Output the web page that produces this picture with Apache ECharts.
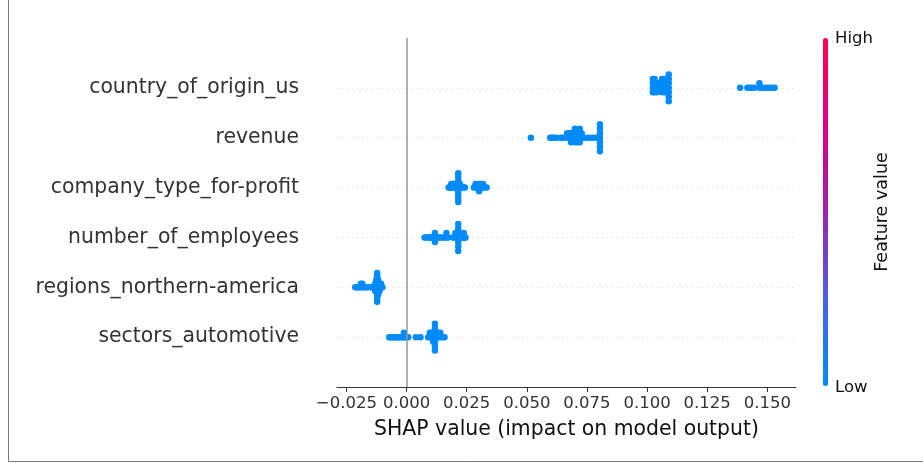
<!DOCTYPE html>
<html>
<head>
<meta charset="utf-8">
<script src="https://cdn.jsdelivr.net/npm/echarts@6/dist/echarts.min.js"></script>
<style>
  html, body { margin: 0; padding: 0; background: #fff; }
  #main { width: 923px; height: 463px; }
</style>
</head>
<body>
<div id="main"></div>
<script>
// rows from bottom to top, as shap draws them
var features = [
    'sectors_automotive',
    'regions_northern-america',
    'number_of_employees',
    'company_type_for-profit',
    'revenue',
    'country_of_origin_us'
];

var shapSectorsAutomotive = [
    -0.0072, -0.0066, -0.0060, -0.0054, -0.0048, -0.0042, -0.0036, -0.0030, -0.0024, -0.0018,
    -0.0011, -0.0011, -0.0005, 0.0002, 0.0007, 0.0039, 0.0058,
    0.0090, 0.0097, 0.0097, 0.0104, 0.0104, 0.0111, 0.0111, 0.0111,
    0.0118, 0.0118, 0.0118, 0.0118, 0.0118, 0.0118, 0.0118,
    0.0125, 0.0125, 0.0132, 0.0132, 0.0140, 0.0140, 0.0150, 0.0158
];
var shapRegionsNorthernAmerica = [
    -0.0213, -0.0208, -0.0202, -0.0196, -0.0190, -0.0190, -0.0184, -0.0184, -0.0178, -0.0170,
    -0.0162, -0.0148, -0.0140,
    -0.0130, -0.0130, -0.0130, -0.0126, -0.0126, -0.0126, -0.0126,
    -0.0122, -0.0122, -0.0122, -0.0122, -0.0122, -0.0122, -0.0122, -0.0122, -0.0122,
    -0.0118, -0.0118, -0.0118, -0.0118, -0.0118,
    -0.0112, -0.0112, -0.0112, -0.0106, -0.0106, -0.0100
];
var shapNumberOfEmployees = [
    0.0075, 0.0082, 0.0090, 0.0098, 0.0100, 0.0106, 0.0112, 0.0118, 0.0118, 0.0118,
    0.0125, 0.0132, 0.0140, 0.0148, 0.0156, 0.0166, 0.0166, 0.0172,
    0.0192, 0.0198, 0.0203, 0.0203, 0.0210, 0.0210,
    0.0215, 0.0215, 0.0215, 0.0215, 0.0215, 0.0215, 0.0215,
    0.0222, 0.0222, 0.0228, 0.0230, 0.0234, 0.0238, 0.0238, 0.0242, 0.0245
];
var shapCompanyTypeForProfit = [
    0.0175, 0.0180, 0.0186, 0.0186, 0.0192, 0.0192, 0.0198, 0.0198, 0.0204, 0.0204, 0.0210, 0.0210,
    0.0215, 0.0215, 0.0215, 0.0215, 0.0215, 0.0215, 0.0215, 0.0215, 0.0215,
    0.0222, 0.0222, 0.0230, 0.0238, 0.0243,
    0.0280, 0.0287, 0.0287, 0.0295, 0.0295, 0.0302, 0.0302, 0.0302, 0.0310, 0.0310,
    0.0318, 0.0318, 0.0326, 0.0333
];
var shapRevenue = [
    0.0517,
    0.0597, 0.0605, 0.0613, 0.0622, 0.0640, 0.0650, 0.0668, 0.0668,
    0.0676, 0.0676, 0.0684, 0.0684, 0.0684, 0.0692, 0.0692,
    0.0700, 0.0700, 0.0700, 0.0700, 0.0708, 0.0708, 0.0708,
    0.0720, 0.0720, 0.0720, 0.0720, 0.0728, 0.0728,
    0.0740, 0.0756, 0.0772, 0.0788,
    0.0804, 0.0804, 0.0804, 0.0804, 0.0804, 0.0804, 0.0804
];
var shapCountryOfOriginUs = [
    0.1024, 0.1024, 0.1024, 0.1024, 0.1031, 0.1031, 0.1031, 0.1031,
    0.1040, 0.1040, 0.1040, 0.1052, 0.1052,
    0.1062, 0.1062, 0.1062, 0.1062, 0.1072, 0.1072, 0.1072, 0.1072,
    0.1090, 0.1090, 0.1090, 0.1090, 0.1090, 0.1090, 0.1090,
    0.1387, 0.1417, 0.1425, 0.1435, 0.1445, 0.1467, 0.1467, 0.1480,
    0.1492, 0.1505, 0.1518, 0.1530
];

// feature values of the samples (all at the low end of the scale)
var featureValueLow = 0;

var xTicks = [-0.025, 0, 0.025, 0.05, 0.075, 0.1, 0.125, 0.15];

var rows = [
    shapSectorsAutomotive,
    shapRegionsNorthernAmerica,
    shapNumberOfEmployees,
    shapCompanyTypeForProfit,
    shapRevenue,
    shapCountryOfOriginUs
];

// same jitter shap uses: bin the values, stack points inside a bin
function beeswarm(values) {
    var nbins = 100;
    var lo = Math.min.apply(null, values);
    var hi = Math.max.apply(null, values);
    var quant = values.map(function (v) {
        return Math.round(nbins * (v - lo) / (hi - lo + 1e-8));
    });
    var inds = values.map(function (v, i) { return i; });
    inds.sort(function (a, b) { return quant[a] - quant[b] || a - b; });
    var ys = values.map(function () { return 0; });
    var layer = 0, lastBin = -1;
    inds.forEach(function (i) {
        if (quant[i] !== lastBin) layer = 0;
        ys[i] = Math.ceil(layer / 2) * ((layer % 2) * 2 - 1);
        layer++;
        lastBin = quant[i];
    });
    var top = Math.max.apply(null, ys) + 1;
    return ys.map(function (y) { return y * 0.9 * (0.4 / top); });
}

var points = [];
rows.forEach(function (values, pos) {
    var offs = beeswarm(values);
    values.forEach(function (v, i) {
        points.push([v, pos + offs[i], featureValueLow]);
    });
});

var font = 'DejaVu Sans';
var chart = echarts.init(document.getElementById('main'), null, { renderer: 'canvas' });

option = {
    animation: false,
    backgroundColor: '#fff',
    grid: { left: 337, right: 127, top: 38, bottom: 76 },
    xAxis: {
        type: 'value',
        min: -0.0289,
        max: 0.1619,
        name: 'SHAP value (impact on model output)',
        nameLocation: 'middle',
        nameGap: 33,
        nameTextStyle: { fontFamily: font, fontSize: 20.4, color: '#111' },
        axisLine: { onZero: false, lineStyle: { color: '#333', width: 1 } },
        axisTick: { customValues: xTicks, length: 5, lineStyle: { color: '#333' } },
        axisLabel: {
            customValues: xTicks,
            margin: 8,
            fontFamily: font,
            fontSize: 16.5,
            color: '#333',
            formatter: function (v) {
                return (v < 0 ? '\u2212' : '') + Math.abs(v).toFixed(3);
            }
        },
        splitLine: { show: false }
    },
    yAxis: {
        type: 'value',
        min: -1,
        max: 6,
        interval: 1,
        axisLine: { show: false },
        axisTick: { show: false },
        axisLabel: {
            margin: 38,
            padding: [5, 0, 0, 0],
            fontFamily: font,
            fontSize: 20.4,
            color: '#333',
            formatter: function (v) { return features[v] || ''; }
        },
        splitLine: {
            show: true,
            showMinLine: false,
            showMaxLine: false,
            lineStyle: { color: '#ccc', width: 0.8, type: [1, 4] }
        }
    },
    visualMap: {
        type: 'continuous',
        min: 0,
        max: 1,
        dimension: 2,
        seriesIndex: 1,
        left: 823,
        top: 38,
        itemWidth: 5,
        itemHeight: 348,
        padding: 0,
        text: null,
        calculable: false,
        hoverLink: false,
        inRange: { color: ['#008bfb', '#4b63e3', '#9b23ad', '#e00086', '#ff0052'] }
    },
    graphic: [
        { type: 'text', left: 835, top: 30, style: { text: 'High', font: '16.5px "DejaVu Sans"', fill: '#111' } },
        { type: 'text', left: 835, top: 379, style: { text: 'Low', font: '16.5px "DejaVu Sans"', fill: '#111' } },
        {
            type: 'text', x: 882, y: 212, rotation: Math.PI / 2,
            style: { text: 'Feature value', font: '17.5px "DejaVu Sans"', fill: '#111', textAlign: 'center', textVerticalAlign: 'middle' }
        },
        { type: 'line', shape: { x1: 8.5, y1: 0, x2: 8.5, y2: 461.5 }, style: { stroke: '#777', lineWidth: 1 } },
        { type: 'line', shape: { x1: 8.5, y1: 461.5, x2: 923, y2: 461.5 }, style: { stroke: '#777', lineWidth: 1 } }
    ],
    series: [
        {
            type: 'scatter',
            data: [],
            z: 1,
            silent: true,
            markLine: {
                silent: true,
                symbol: ['none', 'none'],
                label: { show: false },
                lineStyle: { color: '#999', width: 1.5, type: 'solid' },
                data: [{ xAxis: 0 }]
            }
        },
        {
            type: 'scatter',
            z: 3,
            symbolSize: 6.5,
            itemStyle: { opacity: 1 },
            data: points
        }
    ]
};
chart.setOption(option);
</script>
</body>
</html>
